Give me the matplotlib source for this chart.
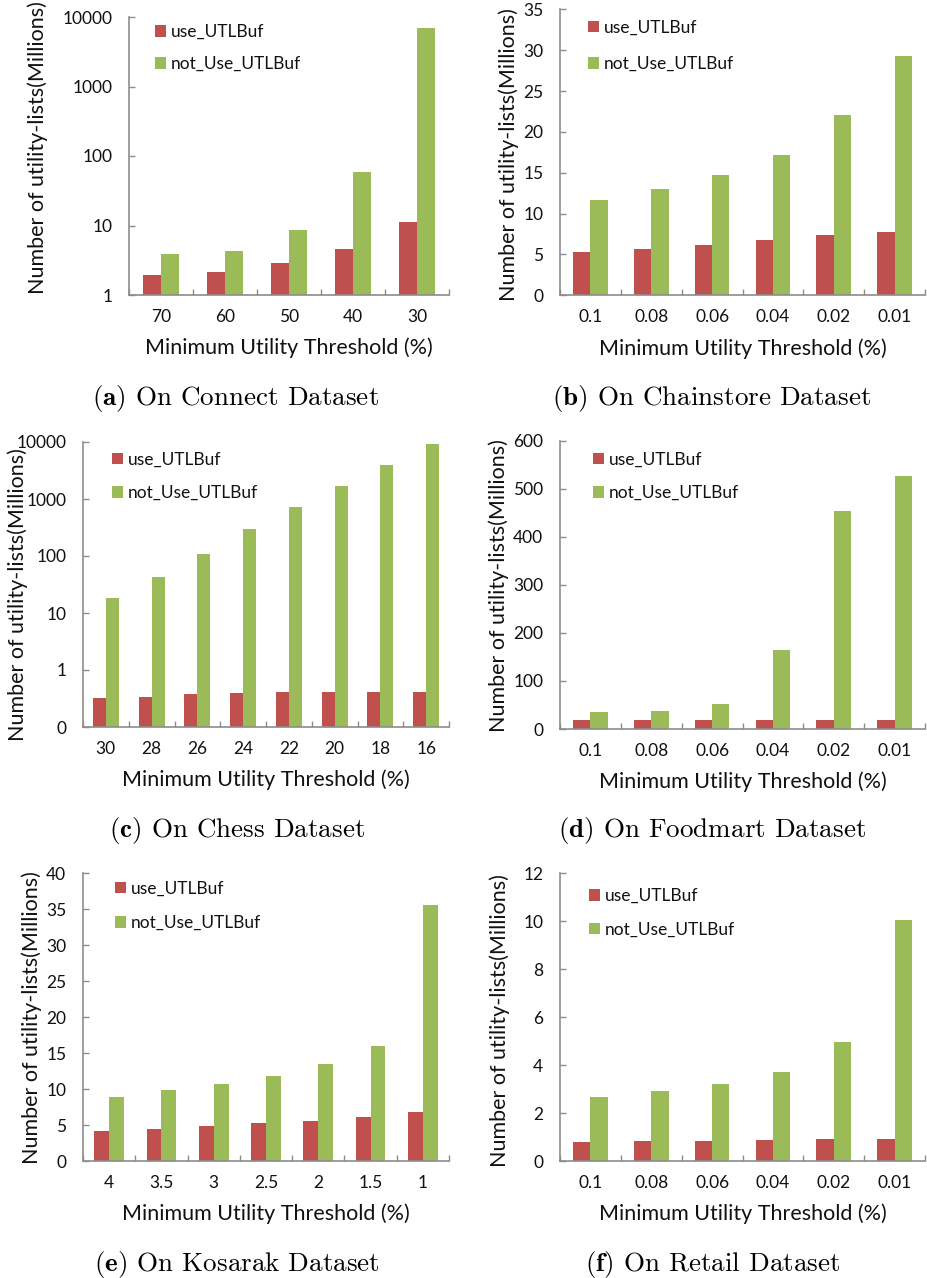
import matplotlib
matplotlib.use("Agg")
import matplotlib.pyplot as plt
import numpy as np
from matplotlib.ticker import FixedLocator, FixedFormatter, NullLocator
from matplotlib.patches import Patch

# ---------------- data ----------------
series_names = ["use_UTLBuf", "not_Use_UTLBuf"]
xlabel_text = "Minimum Utility Threshold (%)"
ylabel_text = "Number of utility-lists(Millions)"

connect_thr = ["70", "60", "50", "40", "30"]
connect_use = [1.92, 2.14, 2.9, 4.6, 11.3]
connect_not = [3.85, 4.3, 8.6, 59.4, 6900]
connect_yticks = [1, 10, 100, 1000, 10000]
connect_yticklabels = ["1", "10", "100", "1000", "10000"]

chain_thr = ["0.1", "0.08", "0.06", "0.04", "0.02", "0.01"]
chain_use = [5.3, 5.71, 6.16, 6.73, 7.34, 7.71]
chain_not = [11.67, 12.97, 14.69, 17.14, 22.11, 29.29]
chain_yticks = [0, 5, 10, 15, 20, 25, 30, 35]

chess_thr = ["30", "28", "26", "24", "22", "20", "18", "16"]
chess_use = [0.323, 0.34, 0.385, 0.40, 0.41, 0.41, 0.417, 0.417]
chess_not = [18.1, 43.4, 110, 298, 733, 1714, 3950, 9230]
chess_yticks = [0.1, 1, 10, 100, 1000, 10000]
chess_yticklabels = ["0", "1", "10", "100", "1000", "10000"]

food_thr = ["0.1", "0.08", "0.06", "0.04", "0.02", "0.01"]
food_use = [18.7, 18.7, 18.7, 18.7, 18.7, 18.7]
food_not = [36, 37.4, 51.3, 163.7, 452.8, 527]
food_yticks = [0, 100, 200, 300, 400, 500, 600]

kosarak_thr = ["4", "3.5", "3", "2.5", "2", "1.5", "1"]
kosarak_use = [4.22, 4.5, 4.82, 5.24, 5.61, 6.12, 6.77]
kosarak_not = [8.85, 9.83, 10.71, 11.82, 13.49, 15.94, 35.55]
kosarak_yticks = [0, 5, 10, 15, 20, 25, 30, 35, 40]

retail_thr = ["0.1", "0.08", "0.06", "0.04", "0.02", "0.01"]
retail_use = [0.79, 0.82, 0.85, 0.88, 0.92, 0.93]
retail_not = [2.67, 2.92, 3.21, 3.71, 4.95, 10.06]
retail_yticks = [0, 2, 4, 6, 8, 10, 12]

captions = [("a", "On Connect Dataset"), ("b", "On Chainstore Dataset"),
            ("c", "On Chess Dataset"), ("d", "On Foodmart Dataset"),
            ("e", "On Kosarak Dataset"), ("f", "On Retail Dataset")]

# ---------------- style ----------------
W, H = 927, 1278
DPI = 100
RED = "#C0504D"
GREEN = "#9BBB59"
AXC = "#8C8C8C"
TXT = "#111111"
FONT = "Lato"
FS_TICK = 12.5
FS_LEG = 12.5
FS_LAB = 15.5
FS_CAP = 19.5
plt.rcParams["font.family"] = [FONT, "DejaVu Sans"]
plt.rcParams["mathtext.fontset"] = "cm"

fig = plt.figure(figsize=(W / DPI, H / DPI), dpi=DPI)

def px_axes(left, top, right, bottom):
    return fig.add_axes([left / W, 1 - bottom / H, (right - left) / W, (bottom - top) / H])

panels = [
    dict(box=(129, 17, 449, 295), cats=connect_thr, use=connect_use, nuse=connect_not,
         log=True, ylim=(1, 10000), yticks=connect_yticks, ytl=connect_yticklabels,
         leg=(26, 14.7, 30.6), ylab=(38, 148), cap=(236, 399)),
    dict(box=(560, 9.3, 925, 295.3), cats=chain_thr, use=chain_use, nuse=chain_not,
         log=False, ylim=(0, 35), yticks=chain_yticks, ytl=None,
         leg=(28, 18, 35), ylab=(508.3, 155), cap=(712, 399)),
    dict(box=(83, 442, 449, 727), cats=chess_thr, use=chess_use, nuse=chess_not,
         log=True, ylim=(0.1, 10000), yticks=chess_yticks, ytl=chess_yticklabels,
         leg=(29, 17.3, 31.7), ylab=(18, 595), cap=(237, 831)),
    dict(box=(560, 440.7, 925, 729), cats=food_thr, use=food_use, nuse=food_not,
         log=False, ylim=(0, 600), yticks=food_yticks, ytl=None,
         leg=(33, 18.6, 31.7), ylab=(499, 585.5), cap=(712.5, 831)),
    dict(box=(83, 873.3, 449, 1161), cats=kosarak_thr, use=kosarak_use, nuse=kosarak_not,
         log=False, ylim=(0, 40), yticks=kosarak_yticks, ytl=None,
         leg=(32, 15, 32.7), ylab=(31.7, 1017.5), cap=(237, 1264)),
    dict(box=(560, 873.3, 925, 1161), cats=retail_thr, use=retail_use, nuse=retail_not,
         log=False, ylim=(0, 12), yticks=retail_yticks, ytl=None,
         leg=(29, 22.7, 31.7), ylab=(500, 1020.6), cap=(712.5, 1264)),
]

BW = 0.285
for p, (letter, captxt) in zip(panels, captions):
    l, t, r, b = p["box"]
    ax = px_axes(l, t, r, b)
    aw, ah = r - l, b - t
    n = len(p["cats"])
    x = np.arange(n)
    if p["log"]:
        ax.set_yscale("log")
        base = p["ylim"][0]
    else:
        base = 0
    use = np.asarray(p["use"], dtype=float)
    nuse = np.asarray(p["nuse"], dtype=float)
    ax.bar(x - BW / 2, use - base, BW, bottom=base, color=RED, zorder=2)
    ax.bar(x + BW / 2, nuse - base, BW, bottom=base, color=GREEN, zorder=2)
    ax.set_xlim(-0.5, n - 0.5)
    ax.set_ylim(*p["ylim"])
    ax.yaxis.set_major_locator(FixedLocator(p["yticks"]))
    if p["ytl"] is not None:
        ax.yaxis.set_major_formatter(FixedFormatter(p["ytl"]))
    else:
        ax.yaxis.set_major_formatter(FixedFormatter([str(v) for v in p["yticks"]]))
    ax.yaxis.set_minor_locator(NullLocator())
    # x: labels at centers, tick marks at category boundaries
    ax.set_xticks(x)
    ax.set_xticklabels(p["cats"])
    ax.set_xticks(np.arange(n + 1) - 0.5, minor=True)
    ax.tick_params(axis="x", which="major", length=0, pad=10, labelsize=FS_TICK, labelcolor=TXT)
    ax.tick_params(axis="x", which="minor", direction="in", length=4, width=1, color=AXC)
    ax.tick_params(axis="y", which="major", direction="in", length=4, width=1, color=AXC,
                   pad=12, labelsize=FS_TICK, labelcolor=TXT)
    for s in ("top", "right"):
        ax.spines[s].set_visible(False)
    for s in ("left", "bottom"):
        ax.spines[s].set_color(AXC)
        ax.spines[s].set_linewidth(1.2)
    ax.set_facecolor("none")

    ax.set_xlabel(xlabel_text, fontsize=FS_LAB, color=TXT)
    ax.xaxis.set_label_coords(0.5, -53 / ah)
    ax.xaxis.label.set_verticalalignment("center")
    ax.set_ylabel(ylabel_text, fontsize=FS_LAB, color=TXT)
    ylx, yly = p["ylab"]
    ax.yaxis.set_label_coords((ylx - l) / aw, (b - yly) / ah)
    ax.yaxis.label.set_verticalalignment("center")

    dx, dy, rs = p["leg"]
    fs_px = FS_LEG * DPI / 72
    handles = [Patch(facecolor=RED), Patch(facecolor=GREEN)]
    ax.legend(handles, series_names, loc="upper left",
              bbox_to_anchor=(dx / aw, 1 - (dy - 0.45 * fs_px) / ah),
              frameon=False, borderpad=0, borderaxespad=0, fontsize=FS_LEG,
              handlelength=0.64, handleheight=0.64, handletextpad=0.25,
              labelspacing=(rs - 0.82 * fs_px) / fs_px, labelcolor=TXT)

    cx, cy = p["cap"]
    fig.text(cx / W, 1 - cy / H, r"$\mathbf{(" + letter + r")}$ " + captxt,
             ha="center", va="center", fontsize=FS_CAP, family="cmr10")

fig.savefig("out.png", dpi=DPI)
